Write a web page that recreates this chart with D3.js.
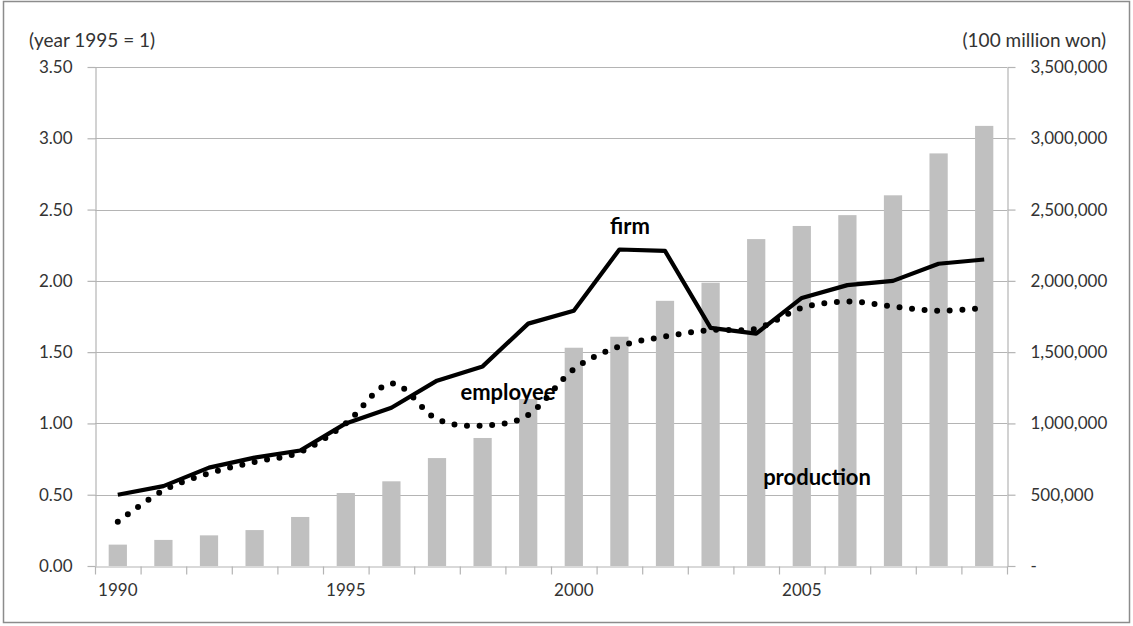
<!DOCTYPE html>
<html>
<head>
<meta charset="utf-8">
<script src="https://cdn.jsdelivr.net/npm/d3@7"></script>
<style>
  body { margin: 0; background: #fff; }
  #chart { width: 1133px; height: 626px; }
</style>
</head>
<body>
<div id="chart"></div>
<script>
// Datos del grafico
const years = ["1990", "1991", "1992", "1993", "1994", "1995", "1996", "1997", "1998", "1999",
               "2000", "2001", "2002", "2003", "2004", "2005", "2006", "2007", "2008", "2009"];
// produccion (100 million won), eje derecho
const production = [150000, 183000, 215000, 252000, 344000, 512000, 594000, 757000, 898000, 1171000,
                    1531000, 1608000, 1860000, 1987000, 2293000, 2385000, 2461000, 2600000, 2894000, 3087000];
// indices (year 1995 = 1), eje izquierdo
const firm = [0.50, 0.56, 0.69, 0.76, 0.81, 1.00, 1.11, 1.30, 1.40, 1.70,
              1.79, 2.22, 2.21, 1.67, 1.63, 1.88, 1.97, 2.00, 2.12, 2.15];
const employee = [0.31, 0.53, 0.65, 0.73, 0.80, 1.00, 1.28, 1.03, 0.985, 1.06,
                  1.38, 1.54, 1.61, 1.655, 1.665, 1.81, 1.855, 1.82, 1.79, 1.81];
const leftTicks = [0, 0.5, 1, 1.5, 2, 2.5, 3, 3.5];
const rightTicks = [0, 500000, 1000000, 1500000, 2000000, 2500000, 3000000, 3500000];
const xLabels = ["1990", "1995", "2000", "2005"];

const width = 1133;
const height = 626;
const margin = { left: 95, right: 126, top: 67, bottom: 60 };
const font = "Lato, 'Open Sans', sans-serif";
const textColor = "#333333";
const gridColor = "#b4b4b4";

const svg = d3
  .select("#chart")
  .append("svg")
  .attr("width", width)
  .attr("height", height);

// marco exterior
svg
  .append("rect")
  .attr("x", 3.5)
  .attr("y", 1.5)
  .attr("width", 1126)
  .attr("height", 621)
  .attr("fill", "white")
  .attr("stroke", "#8c8c8c")
  .attr("stroke-width", 1.5);

// escalas
const x = d3
  .scaleBand()
  .domain(years)
  .range([margin.left, width - margin.right])
  .paddingInner(0.6)
  .paddingOuter(0.3);
const xEdge = d3
  .scaleLinear()
  .domain([0, years.length])
  .range([margin.left, width - margin.right]);
const yLeft = d3
  .scaleLinear()
  .domain([0, 3.5])
  .range([height - margin.bottom, margin.top]);
const yRight = d3
  .scaleLinear()
  .domain([0, 3500000])
  .range([height - margin.bottom, margin.top]);

// lineas de la cuadricula
svg
  .selectAll("grid")
  .data(leftTicks.slice(1))
  .join("line")
  .attr("x1", margin.left)
  .attr("x2", width - margin.right)
  .attr("y1", (d) => Math.round(yLeft(d)) + 0.5)
  .attr("y2", (d) => Math.round(yLeft(d)) + 0.5)
  .attr("stroke", gridColor)
  .attr("stroke-width", 1.2);

// barras de produccion
svg
  .selectAll("bars")
  .data(years)
  .join("rect")
  .attr("x", (d) => x(d))
  .attr("width", x.bandwidth())
  .attr("y", (d, i) => yRight(production[i]))
  .attr("height", (d, i) => yRight(0) - yRight(production[i]))
  .attr("fill", "#c0c0c0");

// ejes
function styleAxis(g) {
  g.select(".domain").attr("stroke", gridColor).attr("stroke-width", 1.2);
  g.selectAll(".tick line").attr("stroke", gridColor).attr("stroke-width", 1.2);
  g.selectAll("text")
    .style("font-family", font)
    .style("font-size", "17px")
    .attr("fill", textColor);
}

svg
  .append("g")
  .attr("transform", `translate(${margin.left + 0.5},0)`)
  .call(
    d3.axisLeft(yLeft)
      .tickValues(leftTicks)
      .tickFormat(d3.format(".2f"))
      .tickSize(8)
      .tickSizeOuter(0)
      .tickPadding(15)
  )
  .call(styleAxis);

svg
  .append("g")
  .attr("transform", `translate(${width - margin.right + 0.5},0)`)
  .call(
    d3.axisRight(yRight)
      .tickValues(rightTicks)
      .tickFormat((d) => (d === 0 ? "-" : d3.format(",")(d)))
      .tickSize(8)
      .tickSizeOuter(0)
      .tickPadding(15)
  )
  .call(styleAxis);

svg
  .append("g")
  .attr("transform", `translate(0,${height - margin.bottom + 0.5})`)
  .call(
    d3.axisBottom(xEdge)
      .tickValues(d3.range(years.length + 1))
      .tickFormat("")
      .tickSize(8)
      .tickSizeOuter(0)
  )
  .call(styleAxis);

// etiquetas de los años
svg
  .selectAll("xLabels")
  .data(xLabels)
  .join("text")
  .attr("x", (d) => x(d) + x.bandwidth() / 2)
  .attr("y", 596)
  .attr("text-anchor", "middle")
  .style("font-family", font)
  .style("font-size", "17px")
  .attr("fill", textColor)
  .text((d) => d);

// titulos de los ejes
svg
  .append("text")
  .attr("x", 29)
  .attr("y", 47)
  .style("font-family", font)
  .style("font-size", "19px")
  .attr("fill", textColor)
  .text("(year 1995 = 1)");
svg
  .append("text")
  .attr("x", 1106)
  .attr("y", 47)
  .attr("text-anchor", "end")
  .style("font-family", font)
  .style("font-size", "19px")
  .attr("fill", textColor)
  .text("(100 million won)");

// lineas: firm (continua) y employee (punteada, suavizada)
const cx = (d, i) => x(years[i]) + x.bandwidth() / 2;

svg
  .append("path")
  .datum(firm)
  .attr("fill", "none")
  .attr("stroke", "black")
  .attr("stroke-width", 4.2)
  .attr("stroke-linejoin", "round")
  .attr("d", d3.line().x(cx).y((d) => yLeft(d)));

svg
  .append("path")
  .datum(employee)
  .attr("fill", "none")
  .attr("stroke", "black")
  .attr("stroke-width", 6)
  .attr("stroke-linecap", "round")
  .attr("stroke-dasharray", "0 12.6")
  .attr("d", d3.line().x(cx).y((d) => yLeft(d)).curve(d3.curveCardinal.tension(0)));

// etiquetas de las series
const seriesLabels = [
  { text: "firm", x: 630, y: 234 },
  { text: "employee", x: 508, y: 400 },
  { text: "production", x: 817, y: 485 }
];
svg
  .selectAll("seriesLabels")
  .data(seriesLabels)
  .join("text")
  .attr("x", (d) => d.x)
  .attr("y", (d) => d.y)
  .attr("text-anchor", "middle")
  .style("font-family", font)
  .style("font-size", "22px")
  .style("font-weight", "bold")
  .attr("fill", "black")
  .text((d) => d.text);
</script>
</body>
</html>
